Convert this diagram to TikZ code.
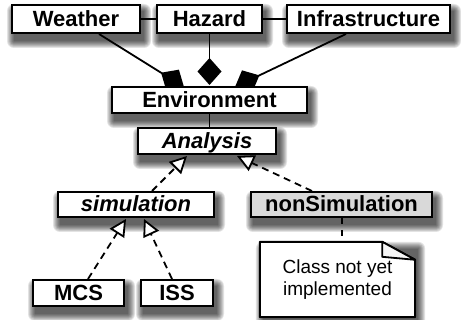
\documentclass[tikz,border=0pt]{standalone}
\usepackage{fontspec}
\setmainfont{Liberation Sans}
\usetikzlibrary{arrows.meta,calc}
\pgfdeclarelayer{shade}
\pgfdeclarelayer{bg}
\pgfsetlayers{shade,bg,main}

\begin{document}
\begin{tikzpicture}[x=1pt,y=-1pt,
  umlbox/.style={draw=black, line width=2pt, fill=white, inner sep=0pt,
      text height=15pt, text depth=0pt,
      font=\fontsize{22}{25}\selectfont\bfseries},
  abstractbox/.style={umlbox, font=\fontsize{22}{25}\selectfont\bfseries\itshape},
  shadowstep/.style={fill=black, opacity=0.11},
  link/.style={line width=1.8pt, draw=black},
  compose/.style={link, -{Diamond[length=27pt, width=24pt]}},
  realize/.style={link, dash pattern=on 7pt off 5pt,
      -{Triangle[length=17pt, width=17pt, fill=white, line width=1.8pt]}},
  attach/.style={link, line width=2pt, dash pattern=on 6pt off 6pt},
  notetext/.style={font=\fontsize{19}{22}\selectfont, align=center,
      inner sep=0pt, minimum width=155pt, minimum height=75pt}
]
\useasboundingbox (0,0) rectangle (461,320);

% class boxes
\node[umlbox, minimum width=128pt, minimum height=28pt] (weather) at (76,19) {Weather};
\node[umlbox, minimum width=105pt, minimum height=28pt] (hazard) at (209.5,19) {Hazard};
\node[umlbox, minimum width=163pt, minimum height=28pt] (infra) at (368.5,19) {Infrastructure};
\node[umlbox, minimum width=195pt, minimum height=26pt] (env) at (209.5,100) {Environment};
\node[abstractbox, minimum width=138pt, minimum height=26pt] (analysis) at (207,141) {Analysis};
\node[abstractbox, minimum width=156pt, minimum height=25pt] (sim) at (136,204.5) {simulation};
\node[umlbox, fill=black!15, minimum width=181pt, minimum height=25pt] (nonsim) at (341.5,204.5) {nonSimulation};
\node[umlbox, minimum width=91pt, minimum height=26pt] (mcs) at (78.5,293) {MCS};
\node[umlbox, minimum width=72pt, minimum height=26pt] (iss) at (177,293) {ISS};

% note with a folded corner
\node[notetext] (note) at (337.5,279.5) {};
\draw[line width=2pt, fill=white, line join=round]
  (note.north west) -- ($(note.north east)+(-33,0)$)
  -- ($(note.north east)+(0,18)$) -- (note.south east)
  -- (note.south west) -- cycle;
\draw[line width=1.8pt, fill=black!4, line join=round]
  ($(note.north east)+(-33,0)$) -- ($(note.north east)+(-33,15)$)
  -- ($(note.north east)+(0,18)$) -- cycle;
\node[notetext] (notebody) at (note) {Class not yet\\implemented};

% soft drop shadows: stacked translucent rectangles, offset down and right
\begin{pgfonlayer}{shade}
\foreach \n in {weather,hazard,infra,env,analysis,sim,nonsim,mcs,iss,note}
  \foreach \e in {0,1,...,7}
    \fill[shadowstep, rounded corners=\e pt]
      ($(\n.north west)+(3-\e,7-\e)$) rectangle ($(\n.south east)+(3+\e,7+\e)$);
\end{pgfonlayer}

% connectors, above the shadows and below the boxes
\begin{pgfonlayer}{bg}
\draw[link] (weather.east) -- (hazard.west);
\draw[link] (hazard.east) -- (infra.west);
\draw[compose] ($(weather.south west)+(88,0)$) -- ($(env.north west)+(73,1)$);
\draw[compose] (hazard.south) -- ($(env.north)+(0,-1)$);
\draw[compose] ($(infra.south west)+(60,0)$) -- ($(env.north west)+(124,1)$);
\draw[link, line width=1.2pt] (env.south) -- (env.south |- analysis.north);
\draw[realize] ($(sim.north)+(16,0)$) -- ($(analysis.south west)+(50,1)$);
\draw[realize] ($(nonsim.north west)+(62,0)$) -- ($(analysis.south west)+(100,1)$);
\draw[realize] ($(mcs.north)+(9.5,0)$) -- ($(sim.south west)+(69,1)$);
\draw[realize] ($(iss.north)+(-5,0)$) -- ($(sim.south west)+(87,1)$);
\draw[attach] (nonsim.south) -- (nonsim.south |- note.north);
\end{pgfonlayer}
\end{tikzpicture}
\end{document}
